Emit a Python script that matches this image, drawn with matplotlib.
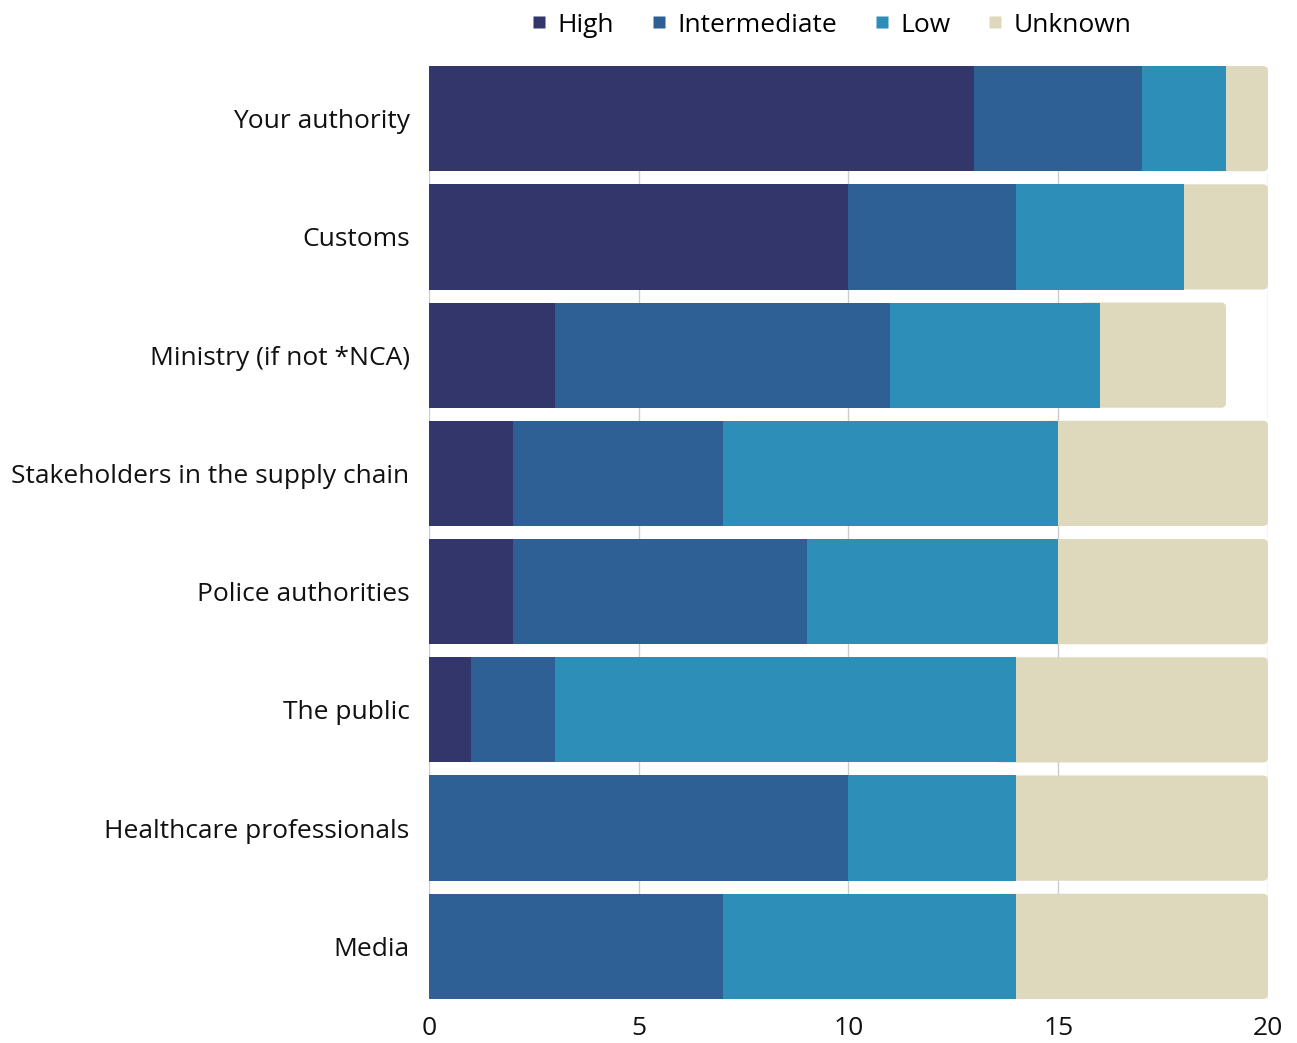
import numpy as np
import matplotlib.pyplot as plt
from matplotlib.patches import FancyBboxPatch
from matplotlib.lines import Line2D

plt.rcParams['font.family'] = ['Open Sans', 'DejaVu Sans']

# Survey counts per actor, split by level
actors = ["Your authority", "Customs", "Ministry (if not *NCA)",
          "Stakeholders in the supply chain", "Police authorities",
          "The public", "Healthcare professionals", "Media"]
high = [13, 10, 3, 2, 2, 1, 0, 0]
intermediate = [4, 4, 8, 5, 7, 2, 10, 7]
low = [2, 4, 5, 8, 6, 11, 4, 7]
unknown = [1, 2, 3, 5, 5, 6, 6, 6]

series = ["High", "Intermediate", "Low", "Unknown"]
colors = ["#32366b", "#2e6096", "#2d8fb8", "#ded9bc"]

fig = plt.figure(figsize=(12.97, 10.43), dpi=100)
ax = fig.add_axes([0.3308, 0.0422, 0.6468, 0.8945])
ax.set_axisbelow(True)

ypos = np.arange(len(actors))[::-1]
bar_h = 0.89
left = np.zeros(len(actors))
data = [high, intermediate, low]
for vals, c in zip(data, colors[:3]):
    vals = np.array(vals, dtype=float)
    ax.barh(ypos, vals, left=left, height=bar_h, color=c, zorder=3)
    left += vals

# last segment: rounded box, tucked under the previous segment so only
# the right-hand corners show
unk = np.array(unknown, dtype=float)
for y, l, w in zip(ypos, left, unk):
    box = FancyBboxPatch((l - 0.5, y - bar_h / 2), w + 0.5, bar_h,
                         boxstyle="round,pad=0,rounding_size=0.12",
                         mutation_aspect=0.35, facecolor=colors[3],
                         edgecolor="none", zorder=2)
    ax.add_patch(box)

ax.set_xlim(0, 20)
ax.set_ylim(-bar_h / 2, len(actors) - 1 + bar_h / 2)
ax.set_xticks([0, 5, 10, 15, 20])
ax.set_yticks(ypos)
ax.set_yticklabels(actors)
ax.tick_params(axis='both', length=0, labelsize=19, colors='#111111')
ax.tick_params(axis='y', pad=14)
ax.tick_params(axis='x', pad=12)
ax.grid(axis='x', color='#cccccc', linewidth=1)
for s in ax.spines.values():
    s.set_visible(False)

handles = [Line2D([], [], marker='s', linestyle='none', markersize=9,
                  markerfacecolor=c, markeredgecolor='none') for c in colors]
fig.legend(handles, series, loc='center', bbox_to_anchor=(0.638, 0.976),
           ncol=4, frameon=False, fontsize=19, handletextpad=0.1,
           columnspacing=1.1, handlelength=1.2)

fig.savefig("out.png", dpi=100)
